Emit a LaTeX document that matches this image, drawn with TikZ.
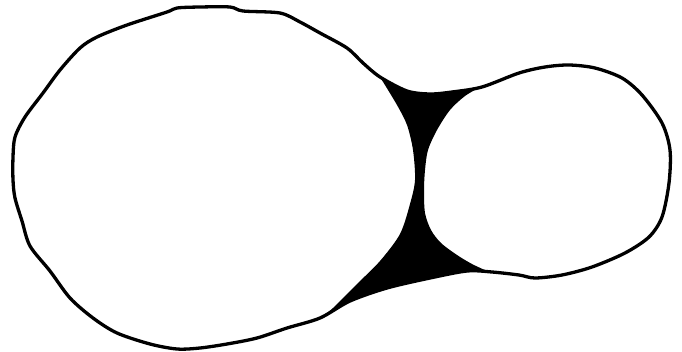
\documentclass[tikz,border=0pt]{standalone}
\begin{document}
\begin{tikzpicture}[x=1pt,y=-1pt,
  outline/.style={line width=3.3pt,line join=round,draw=black},
  neck/.style={fill=black}]
\useasboundingbox (0,0) rectangle (682,351);
% black neck between the two blobs
\fill[neck] plot[smooth,tension=0.5] coordinates {(380,77) (393,85) (407,91) (430,94) (452,92) (482,86)}
  -- plot[smooth,tension=0.5] coordinates {(482,86) (465,96) (450,110) (437,130) (428,150) (425,170) (424,190) (425,213) (431,230) (441,243) (457,255) (472,264) (487,271)}
  -- plot[smooth,tension=0.5] coordinates {(487,271) (467,271) (430,278) (387,288) (350,301) (320,318)}
  -- plot[smooth,tension=0.5] coordinates {(320,318) (333,308) (357,284) (380,261) (400,234) (410,204) (415,180) (413,150) (407,125) (397,105) (380,77)}
  -- cycle;
% outer outline
\draw[outline] plot[smooth cycle,tension=0.5] coordinates {
  (380,77) (363,63) (347,48) (320,33) (300,22) (280,13) (243,11) (230,7) (200,7) (177,8) (167,12)
  (127,25) (97,37) (80,48) (60,70) (43,93) (25,117) (15,137) (13,157) (13,180) (15,198) (22,221)
  (30,246) (50,271) (70,298) (93,318) (117,333) (150,344) (177,349) (200,348) (227,344) (257,338)
  (287,328) (320,318) (350,301) (387,288) (430,278) (467,271) (492,272) (519,275) (535,278)
  (562,275) (592,267) (625,253) (649,237) (662,217) (669,183) (670,150) (662,123) (642,95)
  (622,78) (595,68) (569,65) (545,67) (519,73) (482,87) (452,92) (430,94) (407,91)};
\end{tikzpicture}
\end{document}
